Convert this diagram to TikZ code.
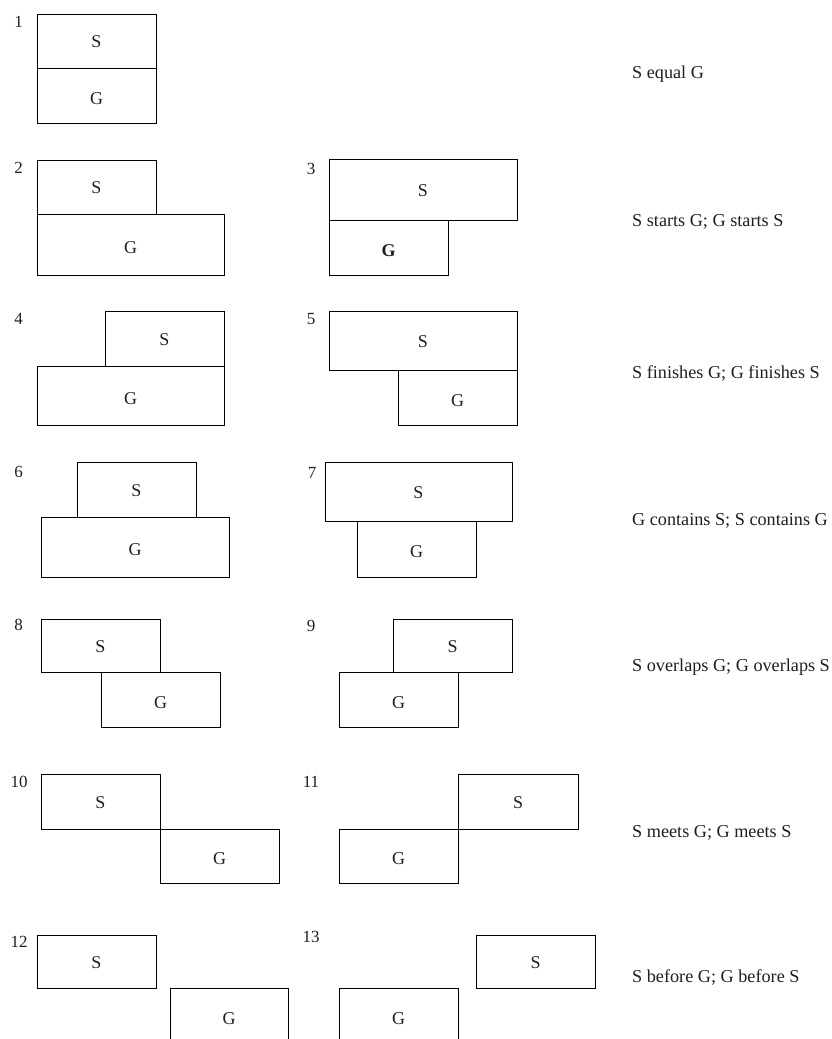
\documentclass[tikz,border=0pt]{standalone}
\usepackage{fontspec}
\setmainfont{Liberation Serif}
\tikzset{
  x=1pt, y=-1pt,
  boxst/.style={draw=black, line width=1pt, rectangle, inner sep=0pt, outer sep=0pt},
  lblS/.style={font=\fontsize{18}{20}\selectfont, text=black!88, yshift=-1pt},
  lblG/.style={font=\fontsize{18}{20}\selectfont, text=black!88, yshift=-3pt},
  numst/.style={font=\fontsize{17}{19}\selectfont, text=black!88, inner sep=0pt},
  relst/.style={font=\fontsize{18.2}{20}\selectfont, text=black!88, anchor=base west, inner sep=0pt}
}
% name, x1, y1, x2, y2, label style, text
\newcommand\rbox[7]{%
  \node[boxst, minimum width={(#4-#2)*1pt}, minimum height={(#5-#3)*1pt},
        label={[#6]center:#7}] (#1) at ({(#2+#4)/2},{(#3+#5)/2}) {};}
\begin{document}
\begin{tikzpicture}
\useasboundingbox[fill=white] (0,0) rectangle (831,1039);
% 1
\node[numst] (n1) at (18.5,22) {1};
\rbox{s1}{37}{14}{156}{68}{lblS}{S}
\rbox{g1}{37}{68}{156}{123}{lblG}{G}
% 2
\node[numst] (n2) at (18.5,168) {2};
\rbox{s2}{37}{160}{156}{214}{lblS}{S}
\rbox{g2}{37}{214}{224}{275}{lblG}{G}
% 3
\node[numst] (n3) at (311,169) {3};
\rbox{s3}{329}{159}{517}{220}{lblS}{S}
\rbox{g3}{329}{220}{448}{275}{lblG}{\bfseries G}
% 4
\node[numst] (n4) at (18.5,319) {4};
\rbox{s4}{105}{311}{224}{366}{lblS}{S}
\rbox{g4}{37}{366}{224}{425}{lblG}{G}
% 5
\node[numst] (n5) at (311,319) {5};
\rbox{s5}{329}{311}{517}{370}{lblS}{S}
\rbox{g5}{398}{370}{517}{425}{lblG}{G}
% 6
\node[numst] (n6) at (18.5,472) {6};
\rbox{s6}{77}{462}{196}{517}{lblS}{S}
\rbox{g6}{41}{517}{229}{577}{lblG}{G}
% 7
\node[numst] (n7) at (312,473) {7};
\rbox{s7}{325}{462}{512}{521}{lblS}{S}
\rbox{g7}{357}{521}{476}{577}{lblG}{G}
% 8
\node[numst] (n8) at (18.5,625) {8};
\rbox{s8}{41}{619}{160}{672}{lblS}{S}
\rbox{g8}{101}{672}{220}{727}{lblG}{G}
% 9
\node[numst] (n9) at (311,626) {9};
\rbox{s9}{393}{619}{512}{672}{lblS}{S}
\rbox{g9}{339}{672}{458}{727}{lblG}{G}
% 10
\node[numst] (n10) at (19,782) {10};
\rbox{s10}{41}{774}{160}{829}{lblS}{S}
\rbox{g10}{160}{829}{279}{883}{lblG}{G}
% 11
\node[numst] (n11) at (311,782) {11};
\rbox{s11}{458}{774}{578}{829}{lblS}{S}
\rbox{g11}{339}{829}{458}{883}{lblG}{G}
% 12
\node[numst] (n12) at (19,942) {12};
\rbox{s12}{37}{935}{156}{988}{lblS}{S}
\rbox{g12}{170}{988}{288}{1043}{lblG}{G}
% 13
\node[numst] (n13) at (311,937) {13};
\rbox{s13}{476}{935}{595}{988}{lblS}{S}
\rbox{g13}{339}{988}{458}{1043}{lblG}{G}
% relation texts
\node[relst] (r1) at (632,78.3) {S equal G};
\node[relst] (r2) at (632,226.7) {S starts G; G starts S};
\node[relst] (r3) at (632,378) {S finishes G; G finishes S};
\node[relst] (r4) at (632,525) {G contains S; S contains G};
\node[relst] (r5) at (632,671.7) {S overlaps G; G overlaps S};
\node[relst] (r6) at (632,837) {S meets G; G meets S};
\node[relst] (r7) at (632,982) {S before G; G before S};
\end{tikzpicture}
\end{document}
